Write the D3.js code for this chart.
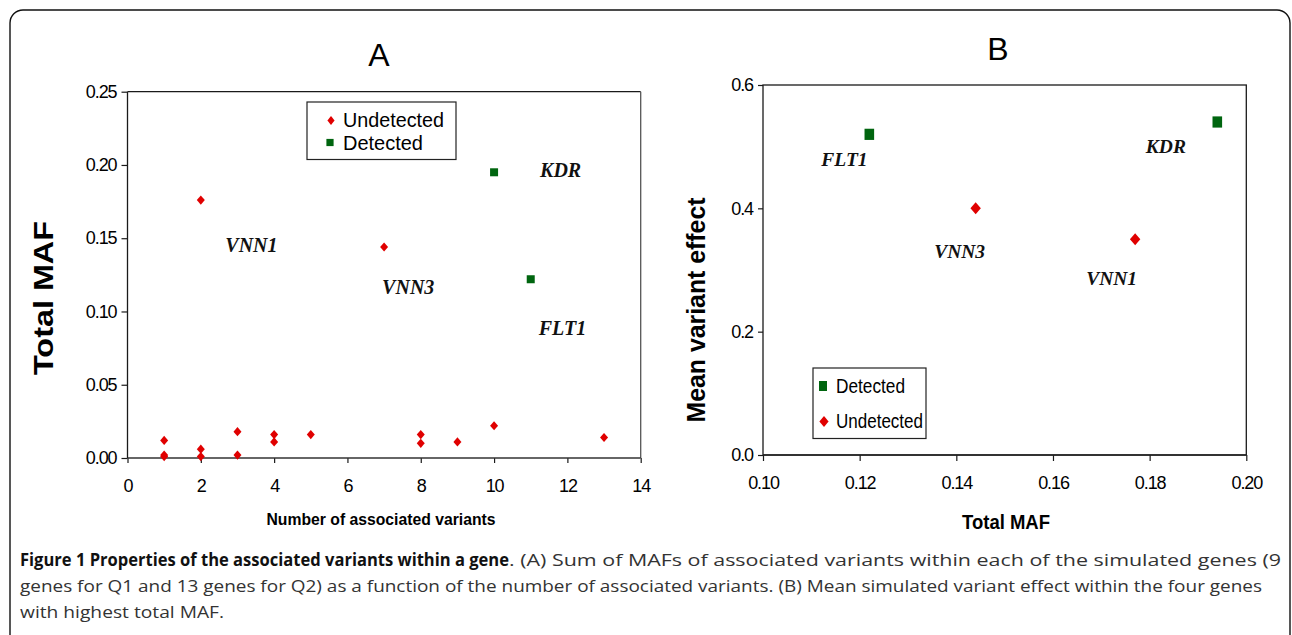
<!DOCTYPE html>
<html>
<head>
<meta charset="utf-8">
<script src="https://cdn.jsdelivr.net/npm/d3@7"></script>
<style>
  html, body { margin: 0; padding: 0; background: #fff; }
  svg { display: block; }
  .tick text { font-family: "Liberation Sans", Arial, sans-serif; }
</style>
</head>
<body>
<svg id="chart" width="1292" height="635"></svg>
<script>
// ---------------- DATA ----------------
// Panel A: number of associated variants vs total MAF
const undetectedA_x = [1, 1, 1, 2, 2, 2, 3, 3, 4, 4, 5, 7, 8, 8, 9, 10, 13];
const undetectedA_y = [0.012, 0.002, 0.001, 0.176, 0.006, 0.001, 0.018, 0.002, 0.016, 0.011, 0.016, 0.144, 0.016, 0.010, 0.011, 0.022, 0.014];
const detectedA_x = [10, 11];
const detectedA_y = [0.195, 0.122];
const xTicksA = [0, 2, 4, 6, 8, 10, 12, 14];
const yTicksA = [0, 0.05, 0.10, 0.15, 0.20, 0.25];
const labelsA_gene = ["KDR", "VNN1", "VNN3", "FLT1"];
const labelsA_x = [10, 2, 7, 11];
const labelsA_y = [0.195, 0.176, 0.144, 0.122];

// Panel B: total MAF vs mean variant effect (four genes with highest total MAF)
const genesB = ["FLT1", "KDR", "VNN3", "VNN1"];
const statusB = ["Detected", "Detected", "Undetected", "Undetected"];
const mafB = [0.122, 0.194, 0.144, 0.177];
const effectB = [0.52, 0.54, 0.40, 0.35];
const xTicksB = [0.10, 0.12, 0.14, 0.16, 0.18, 0.20];
const yTicksB = [0.0, 0.2, 0.4, 0.6];

const titles = ["A", "B"];
const captionBold = "Figure 1 Properties of the associated variants within a gene";
const captionLines = [
  ". (A) Sum of MAFs of associated variants within each of the simulated genes (9",
  "genes for Q1 and 13 genes for Q2) as a function of the number of associated variants. (B) Mean simulated variant effect within the four genes",
  "with highest total MAF."
];

// ---------------- STYLE / LAYOUT ----------------
const RED = "#e00000", GREEN = "#00650f";
const AX = "#1a1a1a";
const tickFont = "Liberation Sans, Arial, sans-serif";
const serif = "Liberation Serif, Times New Roman, serif";

const svg = d3.select("#chart");

// outer frame
svg.append("rect")
  .attr("x", 10).attr("y", 10).attr("width", 1280).attr("height", 640)
  .attr("rx", 13).attr("ry", 13)
  .attr("fill", "none").attr("stroke", "#111").attr("stroke-width", 1.4);

function diamond(g, cx, cy, hw, hh, fill) {
  g.append("path")
    .attr("d", `M${cx},${cy - hh}L${cx + hw},${cy}L${cx},${cy + hh}L${cx - hw},${cy}Z`)
    .attr("fill", fill);
}
function square(g, cx, cy, hw, hh, fill) {
  g.append("rect").attr("x", cx - hw).attr("y", cy - hh)
    .attr("width", 2 * hw).attr("height", 2 * hh).attr("fill", fill);
}

function styleAxis(ax, fontSize) {
  ax.select(".domain").remove();
  ax.selectAll(".tick line").attr("stroke", AX).attr("stroke-width", 1.2);
  ax.selectAll(".tick text")
    .attr("fill", "#000")
    .style("font-family", tickFont)
    .style("font-size", fontSize + "px")
    .style("letter-spacing", "-1.1px");
}

// ================= PANEL A =================
const xA = d3.scaleLinear().domain([0, 14]).range([127.5, 640.7]);
const yA = d3.scaleLinear().domain([0, 0.25]).range([458, 91.7]);
const gA = svg.append("g");

// plot box
gA.append("line").attr("x1", xA(0)).attr("x2", xA(14)).attr("y1", yA(0.25)).attr("y2", yA(0.25))
  .attr("stroke", AX).attr("stroke-width", 1.3);
gA.append("line").attr("x1", xA(14)).attr("x2", xA(14)).attr("y1", yA(0.25)).attr("y2", yA(0))
  .attr("stroke", "#555").attr("stroke-width", 1.3);

const axAx = gA.append("g").attr("transform", `translate(0,${yA(0)})`)
  .call(d3.axisBottom(xA).tickValues(xTicksA).tickSize(5).tickPadding(16).tickFormat(d3.format("d")));
styleAxis(axAx, 18);
const axAy = gA.append("g").attr("transform", `translate(${xA(0)},0)`)
  .call(d3.axisLeft(yA).tickValues(yTicksA).tickSize(6).tickPadding(5).tickFormat(d3.format(".2f")));
styleAxis(axAy, 18);
gA.append("line").attr("x1", xA(0)).attr("x2", xA(14)).attr("y1", yA(0)).attr("y2", yA(0))
  .attr("stroke", "#333").attr("stroke-width", 1.6);
gA.append("line").attr("x1", xA(0)).attr("x2", xA(0)).attr("y1", yA(0)).attr("y2", yA(0.25))
  .attr("stroke", AX).attr("stroke-width", 1.3);

// points
undetectedA_x.forEach((x, i) => diamond(gA, xA(x), yA(undetectedA_y[i]), 4, 4.6, RED));
detectedA_x.forEach((x, i) => square(gA, xA(x), yA(detectedA_y[i]), 4, 4, GREEN));

// gene labels
const offA = { KDR: [46, 5], VNN1: [24.5, 52], VNN3: [-2, 47], FLT1: [8, 56] };
labelsA_gene.forEach((g, i) => {
  gA.append("text").attr("x", xA(labelsA_x[i]) + offA[g][0]).attr("y", yA(labelsA_y[i]) + offA[g][1])
    .text(g).attr("font-family", serif).attr("font-weight", "bold").attr("font-style", "italic")
    .attr("font-size", 20).attr("fill", "#111");
});

// legend A
gA.append("rect").attr("x", 307).attr("y", 102).attr("width", 149).attr("height", 57.5)
  .attr("fill", "#fff").attr("stroke", "#222").attr("stroke-width", 1.2);
diamond(gA, 331, 120.5, 3.6, 4.4, RED);
square(gA, 330, 142.5, 3.6, 3.6, GREEN);
[["Undetected", 127], ["Detected", 149.5]].forEach(([t, y]) => {
  gA.append("text").attr("x", 343).attr("y", y).text(t)
    .attr("font-family", tickFont).attr("font-size", 20)
    .attr("textLength", t === "Undetected" ? 101 : 80).attr("lengthAdjust", "spacingAndGlyphs")
    .attr("fill", "#000");
});

// title & axis labels A
svg.append("text").attr("x", 379).attr("y", 66).attr("text-anchor", "middle").text(titles[0])
  .attr("font-family", tickFont).attr("font-size", 32).attr("fill", "#000");
svg.append("text").attr("x", 381).attr("y", 525).attr("text-anchor", "middle")
  .text("Number of associated variants")
  .attr("font-family", tickFont).attr("font-weight", "bold").attr("font-size", 17)
  .attr("textLength", 229).attr("lengthAdjust", "spacingAndGlyphs").attr("fill", "#000");
svg.append("text").attr("transform", "translate(53,298) rotate(-90)").attr("text-anchor", "middle")
  .text("Total MAF")
  .attr("font-family", tickFont).attr("font-weight", "bold").attr("font-size", 28)
  .attr("textLength", 154).attr("lengthAdjust", "spacingAndGlyphs").attr("fill", "#000");

// ================= PANEL B =================
const xB = d3.scaleLinear().domain([0.10, 0.20]).range([763, 1246.3]);
const yB = d3.scaleLinear().domain([0, 0.6]).range([455, 85]);
const gB = svg.append("g");

gB.append("rect").attr("x", xB(0.10)).attr("y", yB(0.6)).attr("width", xB(0.20) - xB(0.10))
  .attr("height", yB(0) - yB(0.6)).attr("fill", "none").attr("stroke", AX).attr("stroke-width", 1.3);

const axBx = gB.append("g").attr("transform", `translate(0,${yB(0)})`)
  .call(d3.axisBottom(xB).tickValues(xTicksB).tickSize(6).tickPadding(15).tickFormat(d3.format(".2f")));
styleAxis(axBx, 18);
const axBy = gB.append("g").attr("transform", `translate(${xB(0.10)},0)`)
  .call(d3.axisLeft(yB).tickValues(yTicksB).tickSize(5).tickPadding(5).tickFormat(d3.format(".1f")));
styleAxis(axBy, 18);
gB.append("line").attr("x1", xB(0.10)).attr("x2", xB(0.20)).attr("y1", yB(0)).attr("y2", yB(0))
  .attr("stroke", "#222").attr("stroke-width", 1.6);

genesB.forEach((g, i) => {
  if (statusB[i] === "Detected") square(gB, xB(mafB[i]), yB(effectB[i]), 4.8, 5.6, GREEN);
  else diamond(gB, xB(mafB[i]), yB(effectB[i]), 5.2, 6, RED);
});

const offB = { FLT1: [-48, 32], KDR: [-71.5, 31], VNN3: [-41.5, 50], VNN1: [-49, 45.6] };
genesB.forEach((g, i) => {
  gB.append("text").attr("x", xB(mafB[i]) + offB[g][0]).attr("y", yB(effectB[i]) + offB[g][1])
    .text(g).attr("font-family", serif).attr("font-weight", "bold").attr("font-style", "italic")
    .attr("font-size", 19.5).attr("fill", "#111");
});

// legend B
gB.append("rect").attr("x", 813).attr("y", 368).attr("width", 113).attr("height", 70.5)
  .attr("fill", "#fff").attr("stroke", "#222").attr("stroke-width", 1.2);
square(gB, 823, 386, 4, 5, GREEN);
diamond(gB, 824, 421.5, 4.6, 5.6, RED);
[["Detected", 393.3, 69], ["Undetected", 427.7, 87]].forEach(([t, y, w]) => {
  gB.append("text").attr("x", 836).attr("y", y).text(t)
    .attr("font-family", tickFont).attr("font-size", 20)
    .attr("textLength", w).attr("lengthAdjust", "spacingAndGlyphs").attr("fill", "#000");
});

svg.append("text").attr("x", 998).attr("y", 60).attr("text-anchor", "middle").text(titles[1])
  .attr("font-family", tickFont).attr("font-size", 32).attr("fill", "#000");
svg.append("text").attr("x", 1006).attr("y", 529).attr("text-anchor", "middle").text("Total MAF")
  .attr("font-family", tickFont).attr("font-weight", "bold").attr("font-size", 20)
  .attr("textLength", 88).attr("lengthAdjust", "spacingAndGlyphs").attr("fill", "#000");
svg.append("text").attr("transform", "translate(705,310) rotate(-90)").attr("text-anchor", "middle")
  .text("Mean variant effect")
  .attr("font-family", tickFont).attr("font-weight", "bold").attr("font-size", 25)
  .attr("textLength", 225).attr("lengthAdjust", "spacingAndGlyphs").attr("fill", "#000");

// ================= CAPTION =================
const capFont = "Open Sans, Liberation Sans, sans-serif";
const cap = svg.append("g");
cap.append("text").attr("x", 20).attr("y", 566).text(captionBold)
  .attr("font-family", capFont).attr("font-weight", "bold").attr("font-size", 17)
  .attr("textLength", 489).attr("lengthAdjust", "spacingAndGlyphs").attr("fill", "#111");
cap.append("text").attr("x", 509).attr("y", 566).text(captionLines[0])
  .attr("font-family", capFont).attr("font-size", 17)
  .attr("textLength", 772).attr("lengthAdjust", "spacingAndGlyphs").attr("fill", "#333");
cap.append("text").attr("x", 20).attr("y", 592).text(captionLines[1])
  .attr("font-family", capFont).attr("font-size", 17)
  .attr("textLength", 1242).attr("lengthAdjust", "spacingAndGlyphs").attr("fill", "#333");
cap.append("text").attr("x", 20).attr("y", 618).text(captionLines[2])
  .attr("font-family", capFont).attr("font-size", 17)
  .attr("textLength", 204).attr("lengthAdjust", "spacingAndGlyphs").attr("fill", "#333");
</script>
</body>
</html>
